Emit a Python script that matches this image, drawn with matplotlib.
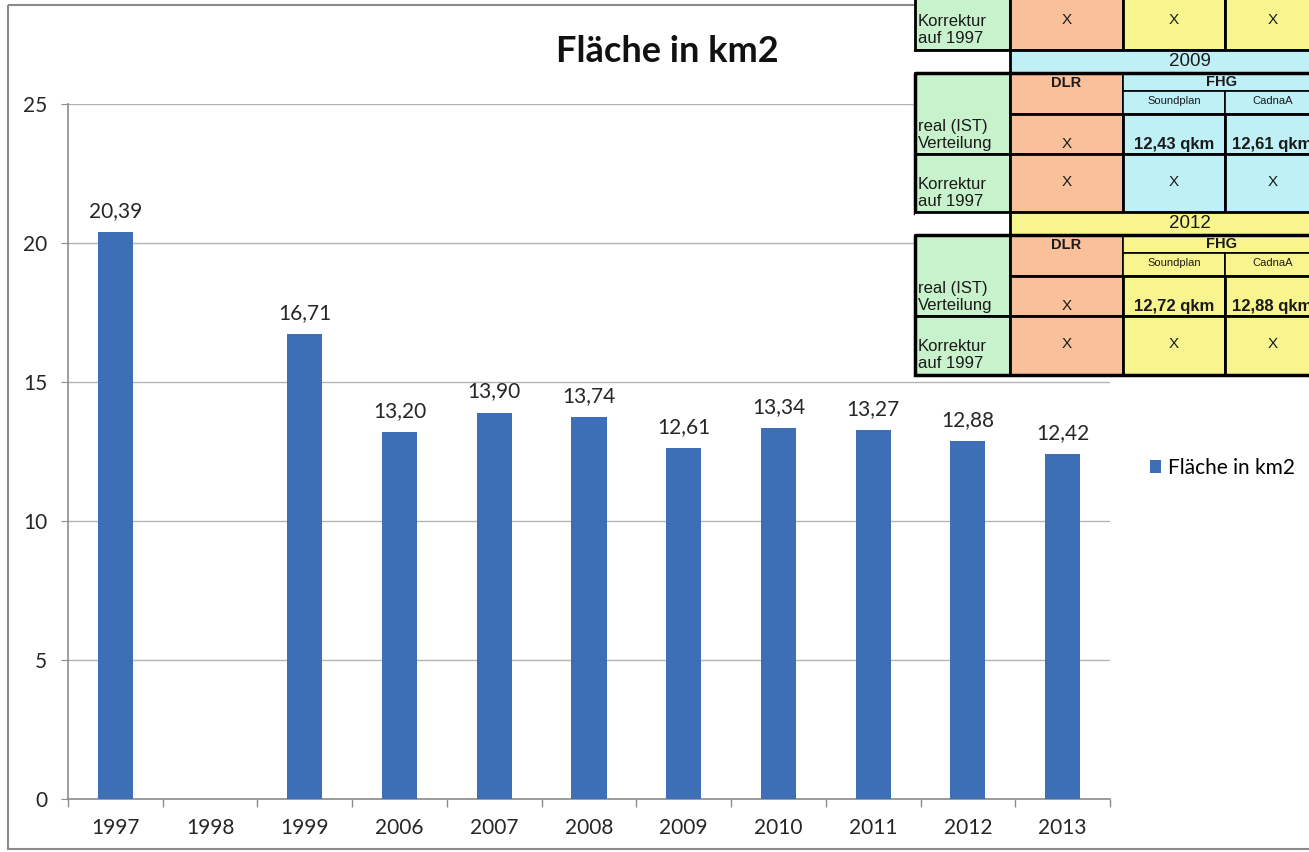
import numpy as np
import matplotlib
matplotlib.use("Agg")
import matplotlib.pyplot as plt
from matplotlib.patches import Rectangle

plt.rcParams['font.family'] = ['Lato', 'DejaVu Sans']

# chart data
years = ['1997', '1998', '1999', '2006', '2007', '2008',
         '2009', '2010', '2011', '2012', '2013']
flaeche = [20.39, None, 16.71, 13.20, 13.90, 13.74,
           12.61, 13.34, 13.27, 12.88, 12.42]
title = 'Fläche in km2'
y_ticks = [0, 5, 10, 15, 20, 25]

# table pasted over the top right of the slide
tab_years = ['2009', '2012']
tab_rows = ['real (IST)\nVerteilung', 'Korrektur\nauf 1997']
tab_dlr = ['X', 'X']
tab_soundplan = [['12,43 qkm', 'X'], ['12,72 qkm', 'X']]
tab_cadna = [['12,61 qkm', 'X'], ['12,88 qkm', 'X']]
tab_top = ['X', 'X', 'X']  # last row of the block cut off at the top

W, H = 1309, 852
bar_color = '#3d6fb6'
grey = '#8c8c8c'
green = '#c8f2cc'
orange = '#f9c09a'
yellow = '#f8f58e'
cyan = '#bff0f6'

fig = plt.figure(figsize=(W / 100, H / 100), dpi=100)
fig.patch.set_facecolor('white')

ax = fig.add_axes([68 / W, 1 - 799 / H, (1110 - 68) / W, (799 - 104) / H])
x = np.arange(len(years))
idx = [i for i, v in enumerate(flaeche) if v is not None]
vals = [flaeche[i] for i in idx]
bars = ax.bar(idx, vals, width=0.37, color=bar_color, label=title, zorder=3)
for i, v in zip(idx, vals):
    ax.annotate(f'{v:.2f}'.replace('.', ','), (i, v), xytext=(0, 8),
                textcoords='offset points', ha='center', va='bottom',
                fontsize=15, color='#262626')

ax.set_xlim(-0.5, len(years) - 0.5)
ax.set_ylim(0, 25)
ax.set_yticks(y_ticks)
ax.set_xticks(x)
ax.set_xticklabels(years)
ax.set_xticks(np.arange(len(years) + 1) - 0.5, minor=True)
ax.tick_params(axis='x', which='major', length=0, pad=14,
               labelsize=15, labelcolor='#262626')
ax.tick_params(axis='x', which='minor', length=6, color=grey, width=1)
ax.tick_params(axis='y', length=5, color=grey, pad=10,
               labelsize=15, labelcolor='#262626')
for s in ['top', 'right']:
    ax.spines[s].set_visible(False)
for s in ['left', 'bottom']:
    ax.spines[s].set_color(grey)
    ax.spines[s].set_linewidth(1.2)
ax.yaxis.grid(True, color='#b4b4b4', lw=1)
ax.set_axisbelow(True)
ax.set_facecolor('none')

ax.legend(loc='center left', bbox_to_anchor=(1150 / W, 1 - 468 / H),
          bbox_transform=fig.transFigure, frameon=False, fontsize=15,
          handlelength=0.55, handleheight=0.55, handletextpad=0.3,
          borderpad=0, borderaxespad=0)

fig.text(667 / W, 1 - 52 / H, title, ha='center', va='center',
         fontsize=26, fontweight='bold', color='#111111')

# overlay in pixel coordinates: slide frame and the table
tab = fig.add_axes([0, 0, 1, 1], zorder=5)
tab.set_xlim(0, W)
tab.set_ylim(H, 0)
tab.axis('off')
tab.patch.set_alpha(0)

tab.add_patch(Rectangle((8, 5), 1400, 844, facecolor='none',
                        edgecolor='#8a8a8a', lw=1.5))

cols = [915, 1010, 1123, 1225, 1320]
tf = ['Liberation Sans', 'DejaVu Sans']


def cell(x0, x1, y0, y1, color, lw=2.0):
    tab.add_patch(Rectangle((x0, y0), x1 - x0, y1 - y0, facecolor=color,
                            edgecolor='black', lw=lw))


def txt(xc, yc, s, size=11, weight='normal', ha='center', va='center'):
    tab.text(xc, yc, s, fontsize=size, fontweight=weight, ha=ha, va=va,
             family=tf, color='#1a1a1a', linespacing=1.15)


def mid(a, b):
    return (a + b) / 2


# cut-off block at the very top (only its last row is visible)
top0, top1 = -12, 50
cell(cols[0], cols[1], top0, top1, green)
cell(cols[1], cols[2], top0, top1, orange)
cell(cols[2], cols[3], top0, top1, yellow)
cell(cols[3], cols[4], top0, top1, yellow)
txt(cols[0] + 3, top1 - 20, tab_rows[1], size=12, ha='left')
for k, s in enumerate(tab_top):
    txt(mid(cols[k + 1], cols[k + 2]), top1 - 30, s)

# one block per year
offs = [0, 23, 41, 64, 104, 163]
for b, (yr, y_start) in enumerate(zip(tab_years, [50, 212])):
    y = [y_start + o for o in offs]
    fhg = cyan if yr == '2009' else yellow
    tab.add_patch(Rectangle((cols[0], y[0]), cols[1] - cols[0], y[1] - y[0],
                            facecolor='white', edgecolor='none'))
    cell(cols[1], 1400, y[0], y[1], fhg)
    tab.plot([cols[0], cols[1]], [y[0], y[0]], color='black', lw=2)
    txt(1190, mid(y[0], y[1]), yr, size=13.5)

    cell(cols[0], cols[1], y[1], y[4], green)
    cell(cols[0], cols[1], y[4], y[5], green)
    cell(cols[1], cols[2], y[1], y[3], orange)
    cell(cols[1], cols[2], y[3], y[4], orange)
    cell(cols[1], cols[2], y[4], y[5], orange)
    cell(cols[2], cols[4], y[1], y[2], fhg, lw=1.2)
    cell(cols[2], cols[3], y[2], y[3], fhg, lw=1.2)
    cell(cols[3], cols[4], y[2], y[3], fhg, lw=1.2)
    cell(cols[2], cols[3], y[3], y[4], fhg)
    cell(cols[3], cols[4], y[3], y[4], fhg)
    cell(cols[2], cols[3], y[4], y[5], fhg)
    cell(cols[3], cols[4], y[4], y[5], fhg)
    tab.add_patch(Rectangle((cols[0], y[1]), cols[4] - cols[0], y[5] - y[1],
                            facecolor='none', edgecolor='black', lw=2.5))

    txt(mid(cols[1], cols[2]), y[1] + 10, 'DLR', size=10.5, weight='bold')
    txt(mid(cols[2], cols[4]), mid(y[1], y[2]), 'FHG', size=10.5,
        weight='bold')
    txt(mid(cols[2], cols[3]), mid(y[2], y[3]) - 1, 'Soundplan', size=8)
    txt(mid(cols[3], cols[4]), mid(y[2], y[3]) - 1, 'CadnaA', size=8)

    txt(cols[0] + 3, y[4] - 3, tab_rows[0], size=12, ha='left', va='bottom')
    txt(cols[0] + 3, y[4] + 0.66 * (y[5] - y[4]), tab_rows[1], size=12,
        ha='left')
    ry = y[4] - 10
    ky = mid(y[4], y[5]) - 2
    txt(mid(cols[1], cols[2]), ry, tab_dlr[0])
    txt(mid(cols[1], cols[2]), ky, tab_dlr[1])
    txt(mid(cols[2], cols[3]), ry, tab_soundplan[b][0], size=12, weight='bold')
    txt(mid(cols[3], cols[4]), ry, tab_cadna[b][0], size=12, weight='bold')
    txt(mid(cols[2], cols[3]), ky, tab_soundplan[b][1])
    txt(mid(cols[3], cols[4]), ky, tab_cadna[b][1])

fig.savefig('out.png', dpi=100)
